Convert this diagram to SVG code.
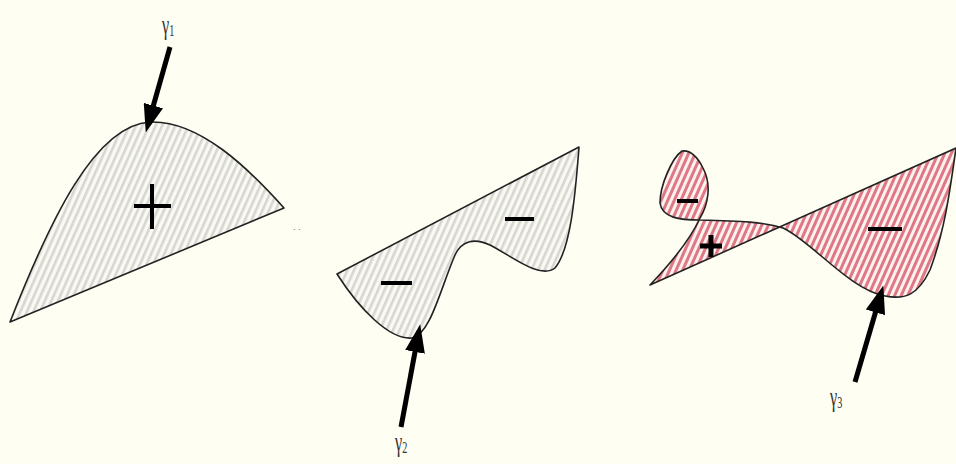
<svg xmlns="http://www.w3.org/2000/svg" width="956" height="464" viewBox="0 0 956 464">
<style>
.outline{stroke:#222;stroke-width:1.6;stroke-linejoin:round}
.gray{fill:url(#grayHatch)}
.red{fill:url(#redHatch)}
.sign{stroke:#000;stroke-width:4;fill:none}
.bold{stroke-width:5}
.arrow{stroke:#000;stroke-width:5;fill:none;marker-end:url(#head)}
.lbl{font-family:"Liberation Serif","DejaVu Serif",serif;fill:#333}
</style>
<defs>
<pattern id="grayHatch" patternUnits="userSpaceOnUse" width="6" height="6" patternTransform="rotate(24)">
<rect width="6" height="6" fill="#fbfaf2"/>
<rect width="2.6" height="6" fill="#d6d6d2"/>
</pattern>
<pattern id="redHatch" patternUnits="userSpaceOnUse" width="6" height="6" patternTransform="rotate(24)">
<rect width="6" height="6" fill="#fdf2ef"/>
<rect width="3" height="6" fill="#de7884"/>
</pattern>
<marker id="head" viewBox="0 0 28 20" refX="8" refY="10" markerWidth="28" markerHeight="20" markerUnits="userSpaceOnUse" orient="auto">
<path d="M0,0 L28,10 L0,20 Z" fill="#000"/>
</marker>
</defs>
<rect width="956" height="464" fill="#fffef3"/>

<g id="gamma1">
<path class="outline gray" d="M10,322 C50,220 95,125 150,122 C200,120 250,170 284,208 L10,322 Z"/>
<path class="sign" d="M134,206 H171 M152,184 V229"/>
<text x="293" y="230" font-family="Liberation Sans, sans-serif" font-size="9" fill="#666">. .</text>
</g>

<g id="gamma2">
<path class="outline gray" d="M337,274 L579,147 C575,200 570,250 555,268 C540,280 510,255 490,245 C475,238 462,240 455,255 C440,290 430,335 412,338 C390,340 360,310 337,274 Z"/>
<path class="sign" d="M381,283 H412 M505,219 H534"/>
</g>

<g id="gamma3">
<path class="outline red" d="M650,285 C672,262 690,240 700,218 C708,205 712,185 703,168 C697,156 690,150 682,151 C672,158 660,185 660,203 C662,218 680,220 700,220 C740,221 765,222 783,228 C810,240 850,290 885,296 C905,300 918,295 930,270 C945,230 950,190 956,148 L650,285 Z"/>
<path class="sign" d="M677,201 H698 M868,229 H902"/>
<path class="sign bold" d="M700,246 H722 M711,235 V257"/>
</g>

<g id="connectors">
<line class="arrow" x1="170" y1="47" x2="151.2" y2="113.3"/>
<line class="arrow" x1="401" y1="427" x2="416.5" y2="344"/>
<line class="arrow" x1="855" y1="382" x2="877.7" y2="304.7"/>
</g>

<g id="labels">
<text class="lbl" transform="translate(162,34) scale(0.6,1)" font-size="27">γ<tspan font-size="17" dy="2">1</tspan></text>
<text class="lbl" transform="translate(395,451) scale(0.6,1)" font-size="27">γ<tspan font-size="17" dy="2">2</tspan></text>
<text class="lbl" transform="translate(830,406) scale(0.6,1)" font-size="27">γ<tspan font-size="17" dy="2">3</tspan></text>
</g>
</svg>
